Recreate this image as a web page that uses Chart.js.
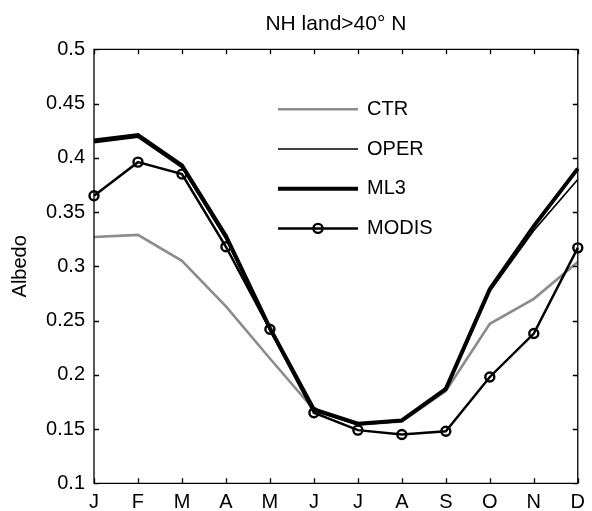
<!DOCTYPE html>
<html>
<head>
<meta charset="utf-8">
<script src="https://cdn.jsdelivr.net/npm/chart.js@4/dist/chart.umd.min.js"></script>
<style>
  html, body { margin: 0; padding: 0; background: #fff; }
  #wrap { width: 592px; height: 511px; }
</style>
</head>
<body>
<div id="wrap"><canvas id="c" width="592" height="511"></canvas></div>
<script>
// Monthly mean surface albedo, Northern Hemisphere land north of 40° N
const months = ['J', 'F', 'M', 'A', 'M', 'J', 'J', 'A', 'S', 'O', 'N', 'D'];
const ctr   = [0.327, 0.329, 0.305, 0.263, 0.215, 0.168, 0.154, 0.157, 0.185, 0.247, 0.270, 0.304];
const oper  = [0.414, 0.419, 0.391, 0.325, 0.241, 0.167, 0.154, 0.157, 0.186, 0.277, 0.333, 0.380];
const ml3   = [0.416, 0.421, 0.393, 0.328, 0.243, 0.168, 0.155, 0.158, 0.187, 0.279, 0.337, 0.390];
const modis = [0.365, 0.396, 0.385, 0.318, 0.242, 0.165, 0.149, 0.145, 0.148, 0.198, 0.238, 0.317];
const yTicks = [0.1, 0.15, 0.2, 0.25, 0.3, 0.35, 0.4, 0.45, 0.5];

const FONT = "'Liberation Sans', Arial, Helvetica, sans-serif";

// Box around the axes with inward tick marks on all four sides
const boxTicks = {
  id: 'boxTicks',
  afterDatasetsDraw(chart) {
    const { ctx, chartArea: a, scales: { x, y } } = chart;
    const len = 5;
    ctx.save();
    ctx.strokeStyle = '#000';
    ctx.lineWidth = 1.3;
    ctx.beginPath();
    ctx.rect(a.left, a.top, a.right - a.left, a.bottom - a.top);
    months.forEach((m, i) => {
      const px = Math.round(x.getPixelForValue(i)) + 0.5;
      ctx.moveTo(px, a.bottom); ctx.lineTo(px, a.bottom - len);
      ctx.moveTo(px, a.top); ctx.lineTo(px, a.top + len);
    });
    yTicks.forEach(v => {
      const py = Math.round(y.getPixelForValue(v)) + 0.5;
      ctx.moveTo(a.left, py); ctx.lineTo(a.left + len, py);
      ctx.moveTo(a.right, py); ctx.lineTo(a.right - len, py);
    });
    ctx.stroke();
    ctx.restore();
  }
};

// Legend drawn inside the plot area, line samples with labels
const innerLegend = {
  id: 'innerLegend',
  afterDraw(chart) {
    const { ctx, chartArea: a } = chart;
    const x0 = a.left + 184, x1 = a.left + 264, tx = a.left + 273;
    const y0 = a.top + 60, dy = 39.7;
    ctx.save();
    chart.data.datasets.forEach((ds, i) => {
      const yy = y0 + i * dy;
      ctx.strokeStyle = ds.borderColor;
      ctx.lineWidth = ds.borderWidth;
      ctx.beginPath();
      ctx.moveTo(x0, yy); ctx.lineTo(x1, yy);
      ctx.stroke();
      if (ds.pointRadius > 0) {
        ctx.lineWidth = ds.pointBorderWidth;
        ctx.beginPath();
        ctx.arc((x0 + x1) / 2, yy, ds.pointRadius, 0, Math.PI * 2);
        ctx.stroke();
      }
      ctx.fillStyle = '#000';
      ctx.font = '20px ' + FONT;
      ctx.textBaseline = 'middle';
      ctx.textAlign = 'left';
      ctx.fillText(ds.label, tx, yy);
    });
    ctx.restore();
  }
};

const lineBase = { tension: 0, fill: false, clip: false, pointRadius: 0, pointHoverRadius: 0 };

new Chart(document.getElementById('c'), {
  type: 'line',
  data: {
    labels: months,
    datasets: [
      { ...lineBase, label: 'CTR',   data: ctr,   borderColor: '#8c8c8c', borderWidth: 2.6, order: 3 },
      { ...lineBase, label: 'OPER',  data: oper,  borderColor: '#000',    borderWidth: 1.7, order: 1 },
      { ...lineBase, label: 'ML3',   data: ml3,   borderColor: '#000',    borderWidth: 4,   order: 2 },
      { ...lineBase, label: 'MODIS', data: modis, borderColor: '#000',    borderWidth: 2.5, order: 0,
        pointRadius: 4.5, pointBorderWidth: 2.4, pointBackgroundColor: 'rgba(0,0,0,0)',
        pointBorderColor: '#000', pointStyle: 'circle' }
    ]
  },
  options: {
    responsive: false,
    animation: false,
    events: [],
    layout: { padding: { left: 0, right: 8.5, top: 0, bottom: 0 } },
    plugins: {
      legend: { display: false },
      tooltip: { enabled: false },
      title: {
        display: true,
        text: 'NH land>40° N',
        fullSize: false,
        color: '#000',
        font: { family: FONT, size: 21, weight: 'normal' },
        padding: { top: 11.8, bottom: 12.3 }
      }
    },
    scales: {
      x: {
        type: 'category',
        offset: false,
        grid: { display: false, drawTicks: false },
        border: { display: false },
        ticks: { color: '#000', font: { family: FONT, size: 20 }, padding: 7, maxRotation: 0, autoSkip: false },
        afterFit(s) { s.height = 27.7; }
      },
      y: {
        min: 0.1, max: 0.5,
        afterBuildTicks(s) { s.ticks = yTicks.map(v => ({ value: v })); },
        grid: { display: false, drawTicks: false },
        border: { display: false },
        ticks: {
          color: '#000', font: { family: FONT, size: 20 }, padding: 9,
          callback: v => String(Number(v.toFixed(2)))
        },
        title: { display: true, text: 'Albedo', color: '#000', font: { family: FONT, size: 20 }, padding: { top: 8.7, bottom: 0 } },
        afterFit(s) { s.width = 94; }
      }
    }
  },
  plugins: [boxTicks, innerLegend]
});
</script>
</body>
</html>
